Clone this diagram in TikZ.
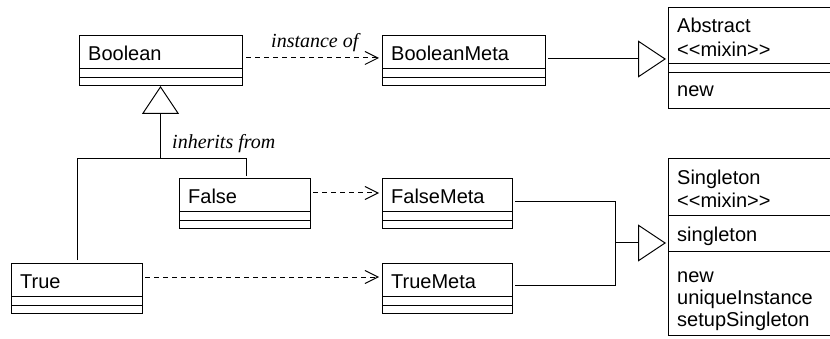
\documentclass[tikz,border=0pt]{standalone}
\usepackage{fontspec}
\setmainfont{Liberation Sans}
\newfontfamily\lblfont{Liberation Serif}
\usetikzlibrary{arrows.meta}
\begin{document}
\begin{tikzpicture}[x=1pt,y=-1pt,
  cls/.style={draw, line width=1pt, inner sep=0pt, outer sep=0pt, anchor=north west},
  sdiv/.style={line width=1pt},
  txt/.style={anchor=base west, inner sep=0pt, font=\fontsize{20}{23}\selectfont},
  lbl/.style={anchor=base west, inner sep=0pt, font=\lblfont\itshape\fontsize{20}{23}\selectfont},
  dep/.style={line width=1pt, dash pattern=on 5pt off 4pt, -{Straight Barb[length=13pt,width=13pt,line width=1pt]}},
  gen/.style={line width=1pt, -{Triangle[open,length=28pt,width=37pt,line width=1pt,fill=white]}},
  conn/.style={line width=1pt}]
\useasboundingbox (0,0) rectangle (830,339);

% simple classes
\node[cls, minimum width=163pt, minimum height=50pt] (bool) at (79,36) {};
\node[cls, minimum width=163pt, minimum height=50pt] (bmeta) at (382,36) {};
\node[cls, minimum width=131pt, minimum height=50pt] (false) at (179,179) {};
\node[cls, minimum width=131pt, minimum height=50pt] (true) at (11,263) {};
\node[cls, minimum width=130pt, minimum height=50pt] (fmeta) at (382,179) {};
\node[cls, minimum width=130pt, minimum height=50pt] (tmeta) at (382,263) {};
\foreach \n in {bool,bmeta,false,true,fmeta,tmeta}{
  \draw[sdiv] ([shift={(0,33)}]\n.north west) -- ([shift={(0,33)}]\n.north east);
  \draw[sdiv] ([shift={(0,42)}]\n.north west) -- ([shift={(0,42)}]\n.north east);
}
\node[txt] (t-bool) at ([shift={(9,25)}]bool.north west) {Boolean};
\node[txt] (t-bmeta) at ([shift={(9,25)}]bmeta.north west) {BooleanMeta};
\node[txt] (t-false) at ([shift={(9,25)}]false.north west) {False};
\node[txt] (t-true) at ([shift={(9,25)}]true.north west) {True};
\node[txt] (t-fmeta) at ([shift={(9,25)}]fmeta.north west) {FalseMeta};
\node[txt] (t-tmeta) at ([shift={(9,25)}]tmeta.north west) {TrueMeta};

% Abstract
\node[cls, minimum width=162pt, minimum height=101pt] (abs) at (668,8) {};
\draw[sdiv] ([shift={(0,56)}]abs.north west) -- ([shift={(0,56)}]abs.north east);
\draw[sdiv] ([shift={(0,65)}]abs.north west) -- ([shift={(0,65)}]abs.north east);
\node[txt] (t-abs1) at ([shift={(9,25)}]abs.north west) {Abstract};
\node[txt] (t-abs2) at ([shift={(9,49)}]abs.north west) {<{}<mixin>{}>};
\node[txt] (t-abs3) at ([shift={(9,89)}]abs.north west) {new};

% Singleton
\node[cls, minimum width=162pt, minimum height=176pt] (single) at (668,159) {};
\draw[sdiv] ([shift={(0,57)}]single.north west) -- ([shift={(0,57)}]single.north east);
\draw[sdiv] ([shift={(0,93)}]single.north west) -- ([shift={(0,93)}]single.north east);
\node[txt] (t-s1) at ([shift={(9,26)}]single.north west) {Singleton};
\node[txt] (t-s2) at ([shift={(9,49)}]single.north west) {<{}<mixin>{}>};
\node[txt] (t-s3) at ([shift={(9,83)}]single.north west) {singleton};
\node[txt] (t-s4) at ([shift={(9,123)}]single.north west) {new};
\node[txt] (t-s5) at ([shift={(9,145)}]single.north west) {uniqueInstance};
\node[txt] (t-s6) at ([shift={(9,167)}]single.north west) {setupSingleton};

% dependencies
\draw[dep] ([shift={(4,-3)}]bool.east) -- ([shift={(-3,-3)}]bmeta.west);
\draw[dep] ([shift={(3,-11)}]false.east) -- ([shift={(-3,-11)}]fmeta.west);
\draw[dep] ([shift={(3,-11)}]true.east) -- ([shift={(-3,-11)}]tmeta.west);
\node[lbl] (l-inst) at (271,48) {instance of};

% generalisations
\draw[gen] ([shift={(3,-2)}]bmeta.east) -- ([shift={(-2,0.5)}]abs.west);
\coordinate (junc) at ([shift={(0,73)}]bool.south);
\draw[gen] ([shift={(1.5,-3)}]false.north) |- (junc) -- (bool.south);
\draw[conn] ([shift={(0.5,-3)}]true.north) |- (junc);
\node[lbl] (l-inh) at (172,149) {inherits from};

\coordinate (sj) at ([shift={(-53,-4)}]single.west);
\draw[conn] ([shift={(3,-2)}]fmeta.east) -| (sj);
\draw[conn] ([shift={(3,-3)}]tmeta.east) -| (sj);
\draw[gen] (sj) -- ([shift={(-2,-4)}]single.west);
\end{tikzpicture}
\end{document}
